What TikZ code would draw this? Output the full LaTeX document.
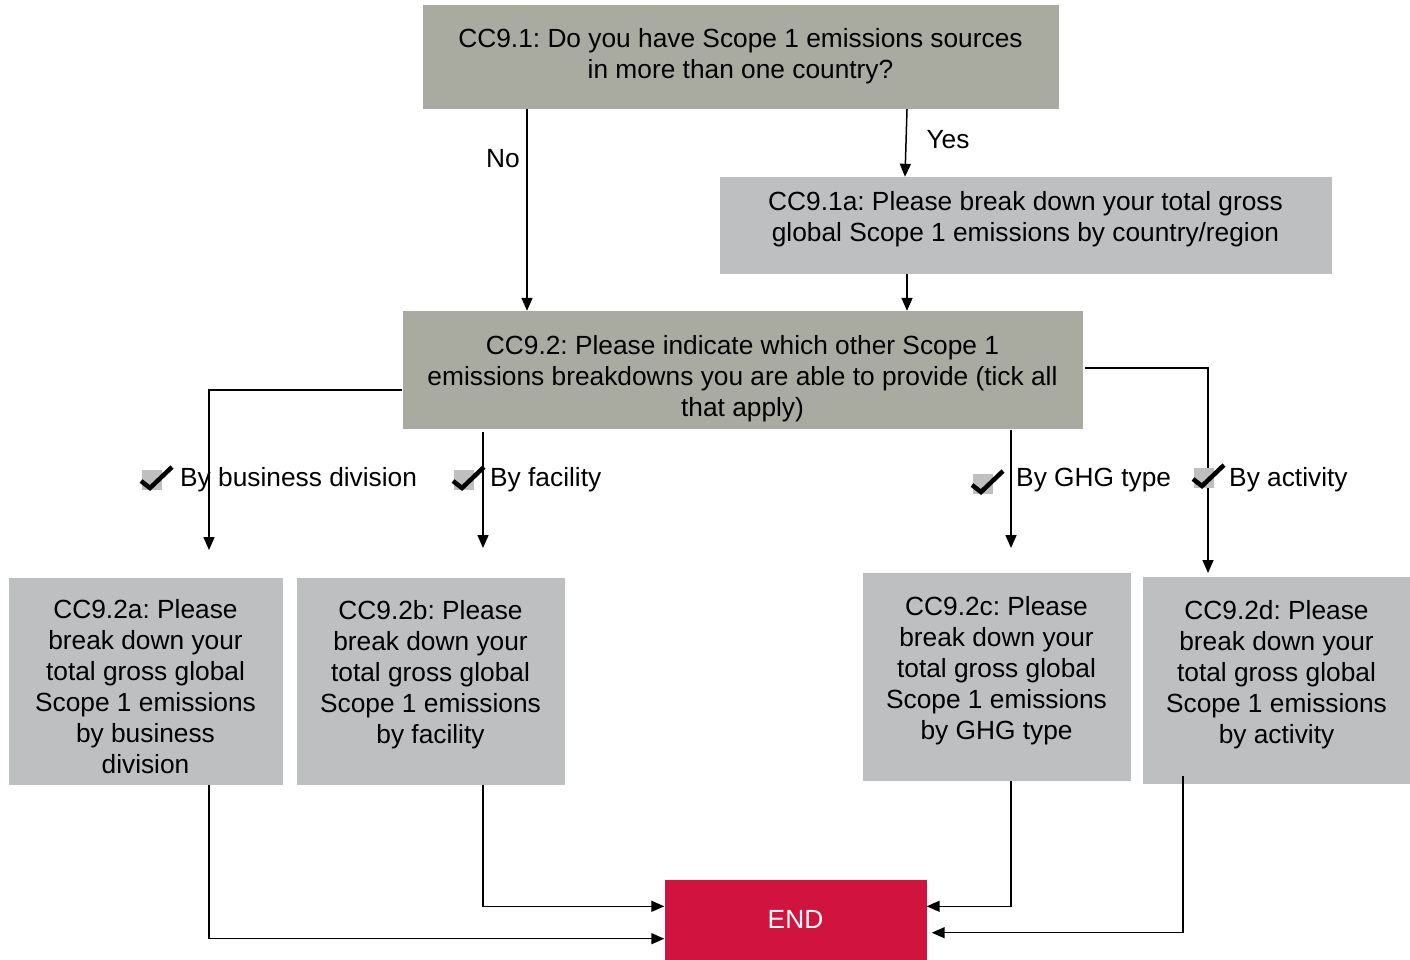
\documentclass[tikz,border=0pt]{standalone}
\usepackage{fontspec}
\setmainfont{Liberation Sans}
\frenchspacing
\usetikzlibrary{arrows.meta}
\definecolor{qgreen}{HTML}{A9ABA1}
\definecolor{qgrey}{HTML}{BEBFC1}
\definecolor{endred}{HTML}{D0133F}
\definecolor{chkgrey}{HTML}{BFBFBF}
\begin{document}
\begin{tikzpicture}[x=1pt,y=-1pt,
  box/.style={inner sep=0pt, align=center, font=\fontsize{26.3}{31}\selectfont},
  qbox/.style={box, fill=qgreen},
  gbox/.style={box, fill=qgrey},
  txt/.style={box},
  lbl/.style={inner sep=0pt, font=\fontsize{26.3}{31}\selectfont},
  conn/.style={line width=1.5pt, black},
  arr/.style={conn, -{Triangle[length=13pt,width=11pt]}},
  chk/.pic={
    \fill[chkgrey] (-10,-10) rectangle (10,10);
    \draw[line width=4.5pt, line join=miter] (-11,1) -- (-2,8) -- (20,-13);
  }]
\useasboundingbox (0,0) rectangle (1410,959);

% question boxes (fill) and their texts
\node[qbox, minimum width=636pt, minimum height=104pt] (q1) at (740.5,57) {};
\node[txt, yshift=1pt] (q1t) at (q1) {CC9.1: Do you have Scope 1 emissions sources\\in more than one country?};
\node[gbox, minimum width=612pt, minimum height=97pt] (q1a) at (1025.5,225.5) {};
\node[txt, yshift=6pt] (q1at) at (q1a) {CC9.1a: Please break down your total gross\\global Scope 1 emissions by country/region};
\node[qbox, minimum width=680pt, minimum height=118pt] (q2) at (742.5,370) {};
\node[txt, yshift=-9pt] (q2t) at (q2) {CC9.2: Please indicate which other Scope 1\\emissions breakdowns you are able to provide (tick all\\that apply)};

\node[gbox, minimum width=274pt, minimum height=207pt] (q2a) at (145.5,681) {};
\node[txt, yshift=-6pt] (q2at) at (q2a) {CC9.2a: Please\\break down your\\total gross global\\Scope 1 emissions\\by business\\division};
\node[gbox, minimum width=268pt, minimum height=207pt] (q2b) at (430.5,681) {};
\node[txt, yshift=-6pt] (q2bt) at (q2b) {CC9.2b: Please\\break down your\\total gross global\\Scope 1 emissions\\by facility\\~};
\node[gbox, minimum width=268pt, minimum height=208pt] (q2c) at (996.5,677) {};
\node[txt, yshift=-6pt] (q2ct) at (q2c) {CC9.2c: Please\\break down your\\total gross global\\Scope 1 emissions\\by GHG type\\~};
\node[gbox, minimum width=268pt, minimum height=207pt] (q2d) at (1276.5,680) {};
\node[txt, yshift=-7pt] (q2dt) at (q2d) {CC9.2d: Please\\break down your\\total gross global\\Scope 1 emissions\\by activity\\~};

\node[box, fill=endred, text=white, minimum width=262pt, minimum height=80pt] (end) at (795.5,919.5) {END};

% branch columns and free arrow ends
\coordinate (xno) at (527,0);
\coordinate (xyes) at (907,0);
\coordinate (ea) at (209,550);
\coordinate (eb) at (483,548);
\coordinate (ec) at (1011,548);
\coordinate (ed) at (1208,573);
\coordinate (sb) at (483,432);
\coordinate (sc) at (1011,430);
\coordinate (ya) at (0,390);
\coordinate (yd) at (0,368);
\coordinate (xd4) at (1183,0);
\coordinate (xy2) at (905,0);

% top part
\draw[arr] (q1.south -| xno) -- (q2.north -| xno);
\node[lbl] (no) at (503,159) {No};
\draw[arr] (q1.south -| xyes) -- (q1a.north -| xy2);
\node[lbl] (yes) at (948,140) {Yes};
\draw[arr] (q1a.south -| xyes) -- (q2.north -| xyes);

% breakdown options
\draw[arr] (q2.west |- ya) -| (ea);
\draw[arr] (sb) -- (eb);
\draw[arr] (sc) -- (ec);
\draw[arr] ([xshift=2pt]q2.east |- yd) -| (ed);

\pic at (152,480) {chk};
\node[lbl, anchor=west] (la) at (180,480) {By business division};
\pic at (464,480) {chk};
\node[lbl, anchor=west] (lb) at (490,480) {By facility};
\pic at (983,484) {chk};
\node[lbl, anchor=west] (lc) at (1016,480) {By GHG type};
\pic at (1204,478) {chk};
\node[lbl, anchor=west] (ld) at (1229,480) {By activity};

% paths to END
\draw[arr] (q2a.south -| ea) |- ([yshift=21pt]end.south west);
\draw[arr] (q2b.south -| eb) |- ([yshift=-27pt]end.north west);
\draw[arr] (q2c.south -| ec) |- ([yshift=-27pt]end.north east);
\draw[arr] ([yshift=8pt]q2d.south -| xd4) |- ([xshift=5pt,yshift=27pt]end.south east);
\end{tikzpicture}
\end{document}
